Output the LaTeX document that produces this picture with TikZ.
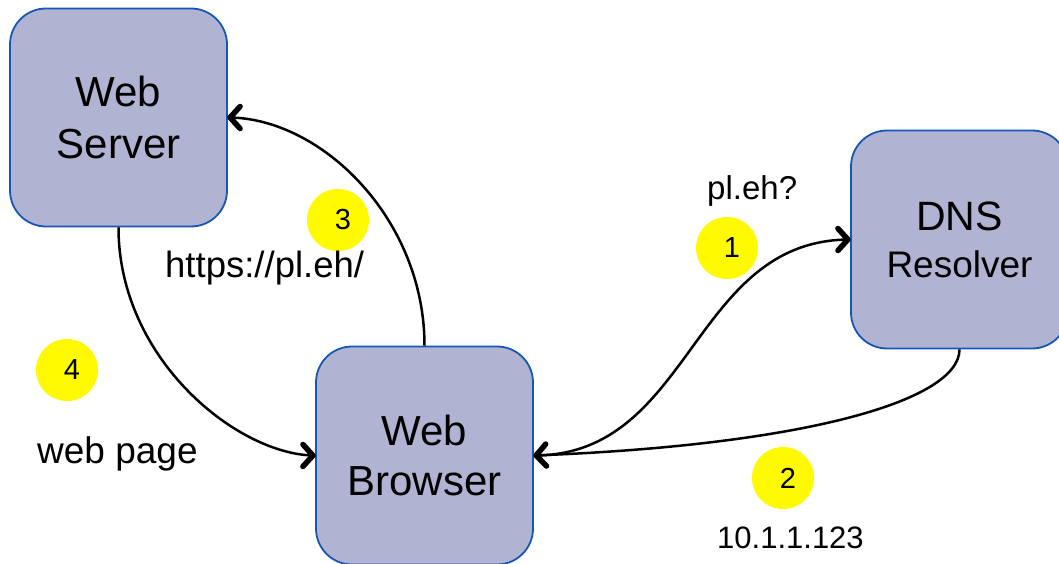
\documentclass[tikz,border=0pt]{standalone}
\usepackage{fontspec}
\setmainfont{Liberation Sans}
\usetikzlibrary{decorations.markings}
\definecolor{boxfill}{RGB}{176,180,210}
\definecolor{boxline}{RGB}{24,86,182}
\definecolor{numyellow}{RGB}{255,250,0}
\tikzset{
  boxnode/.style={draw=boxline, line width=1.8pt, fill=boxfill, rounded corners=36pt,
    minimum width=217pt, minimum height=218pt, align=center, inner sep=0pt},
  barbtip/.style={line width=5.5pt, line cap=round, line join=round},
  conn/.style={line width=2.5pt, postaction={decorate, decoration={markings,
    mark=at position 0.9995 with {\draw[barbtip]
      (-12pt,-11pt) -- (-2pt,0pt) -- (-12pt,11pt);}}}},
  numcirc/.style={circle, fill=numyellow, minimum size=62pt, inner sep=0pt},
  lbl/.style={anchor=base west, inner sep=0pt}
}
\begin{document}
\begin{tikzpicture}[x=1pt,y=-1pt]
\useasboundingbox (0,0) rectangle (1059,564);
\clip (0,0) rectangle (1059,564);
\node[boxnode, font=\fontsize{42}{52}\selectfont] (srv) at (118.5,117.5) {Web\\Server};
\node[boxnode, font=\fontsize{41}{47}\selectfont] (dns) at (959.5,239.5) {DNS\\\fontsize{37}{47}\selectfont Resolver};
\node[boxnode, font=\fontsize{42}{50}\selectfont] (brw) at (424.5,455.5) {Web\\Browser};

\draw[conn] (brw.east) .. controls +(159,0) and +(-159,0) .. (dns.west);
\draw[conn] (dns.south) .. controls +(0,52) and +(267,-10) .. (brw.east);
\draw[conn] (brw.north) .. controls +(0,-127) and +(93,0) .. (srv.east);
\draw[conn] (srv.south) .. controls +(0,133) and +(-76,0) .. (brw.west);

\node[numcirc, label={[xshift=5pt,font=\fontsize{29}{29}\selectfont]center:1}] (c1) at (727,248) {};
\node[numcirc, label={[xshift=5pt,font=\fontsize{29}{29}\selectfont]center:2}] (c2) at (783,478) {};
\node[numcirc, label={[xshift=5pt,font=\fontsize{29}{29}\selectfont]center:3}] (c3) at (338,220) {};
\node[numcirc, label={[xshift=5pt,font=\fontsize{29}{29}\selectfont]center:4}] (c4) at (67,370) {};

\node[lbl, font=\fontsize{33}{33}\selectfont] (l1) at (707,200) {pl.eh?};
\node[lbl, font=\fontsize{31}{31}\selectfont] (l2) at (717,548) {10.1.1.123};
\node[lbl, font=\fontsize{36.5}{36.5}\selectfont] (l3) at (165,277) {https://pl.eh/};
\node[lbl, font=\fontsize{37}{37}\selectfont] (l4) at (37,463) {web page};
\end{tikzpicture}
\end{document}
